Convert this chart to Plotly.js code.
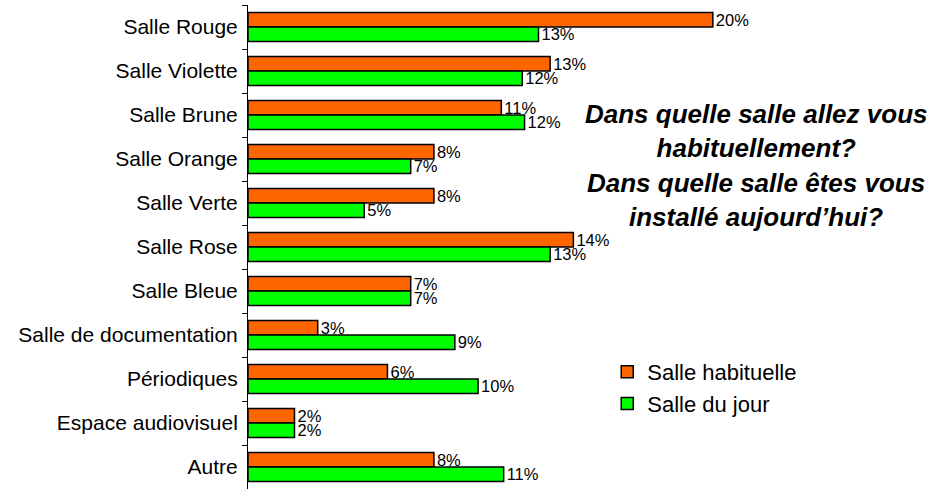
<!DOCTYPE html>
<html>
<head>
<meta charset="utf-8">
<script src="https://cdn.plot.ly/plotly-3.0.1.min.js"></script>
<style>
  html, body { margin: 0; padding: 0; background: #fff; }
  #plot { width: 937px; height: 491px; }
</style>
</head>
<body>
<div id="plot"></div>
<script>
// Categories, top to bottom
const salles = [
  "Salle Rouge", "Salle Violette", "Salle Brune", "Salle Orange", "Salle Verte",
  "Salle Rose", "Salle Bleue", "Salle de documentation", "Périodiques",
  "Espace audiovisuel", "Autre"
];

// Percent values
const habituelle = [20.0, 13.0, 10.9, 8.0, 8.0, 14.0, 7.0, 3.0, 6.0, 2.0, 8.0];
const duJour = [12.5, 11.8, 11.9, 7.0, 5.0, 13.0, 7.0, 8.9, 9.9, 2.0, 11.0];

// Labels as printed on the chart
const habituelleLabels = ["20%", "13%", "11%", "8%", "8%", "14%", "7%", "3%", "6%", "2%", "8%"];
const duJourLabels = ["13%", "12%", "12%", "7%", "5%", "13%", "7%", "9%", "10%", "2%", "11%"];

const FONT = "Liberation Sans, Arial, sans-serif";
const labelFont = { family: FONT, size: 16.5, color: "#000" };

const data = [
  {
    type: "bar",
    orientation: "h",
    name: "Salle habituelle",
    legendgroup: "a",
    y: salles,
    x: habituelle,
    text: habituelleLabels,
    textposition: "outside",
    constraintext: "none",
    textfont: labelFont,
    cliponaxis: false,
    marker: { color: "#ff6600", line: { color: "#000", width: 1.5 } },
    hoverinfo: "skip"
  },
  {
    type: "bar",
    orientation: "h",
    name: "Salle du jour",
    legendgroup: "b",
    y: salles,
    x: duJour,
    text: duJourLabels,
    textposition: "outside",
    constraintext: "none",
    textfont: labelFont,
    cliponaxis: false,
    marker: { color: "#00ff00", line: { color: "#000", width: 1.5 } },
    hoverinfo: "skip"
  }
];

const titleFont = { family: FONT, size: 26, color: "#000" };

const layout = {
  width: 937,
  height: 491,
  margin: { l: 248, r: 15, t: 5, b: 2 },
  paper_bgcolor: "#fff",
  plot_bgcolor: "#fff",
  barmode: "group",
  bargap: 0.34,
  bargroupgap: 0,
  showlegend: true,
  legend: {
    x: 0.533, y: 0.285, xanchor: "left", yanchor: "top",
    traceorder: "normal",
    tracegroupgap: 5,
    font: { family: FONT, size: 22, color: "#000" },
    bgcolor: "rgba(0,0,0,0)"
  },
  xaxis: {
    range: [0, 29],
    visible: false,
    fixedrange: true
  },
  yaxis: {
    autorange: "reversed",
    showline: true,
    linecolor: "#000",
    linewidth: 1,
    ticks: "outside",
    tickson: "boundaries",
    ticklen: 5,
    tickcolor: "#000",
    ticklabelstandoff: 5,
    showgrid: false,
    tickfont: { family: FONT, size: 21, color: "#000" },
    fixedrange: true
  },
  annotations: [
    {
      xref: "paper", yref: "paper", x: 0.754, y: 0.74, xanchor: "center", yanchor: "middle",
      text: "<b><i>Dans quelle salle allez vous<br>habituellement?</i></b>",
      showarrow: false, font: titleFont
    },
    {
      xref: "paper", yref: "paper", x: 0.754, y: 0.597, xanchor: "center", yanchor: "middle",
      text: "<b><i>Dans quelle salle êtes vous<br>installé aujourd’hui?</i></b>",
      showarrow: false, font: titleFont
    }
  ]
};

Plotly.newPlot("plot", data, layout, { displayModeBar: false, staticPlot: true });
</script>
</body>
</html>
